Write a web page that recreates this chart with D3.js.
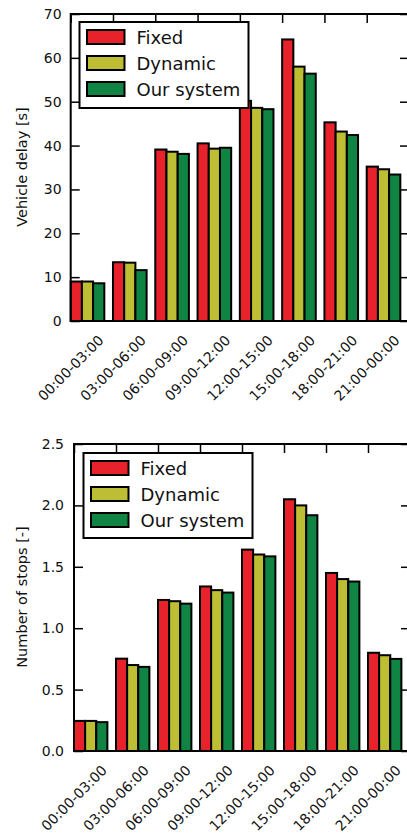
<!DOCTYPE html>
<html><head><meta charset="utf-8">
<script src="https://cdn.jsdelivr.net/npm/d3@7"></script>
<style>body{margin:0;background:#fff;} svg{display:block;} text{font-family:"DejaVu Sans",sans-serif;fill:#111;}</style>
</head><body>
<script>
const categories = ["00:00-03:00","03:00-06:00","06:00-09:00","09:00-12:00","12:00-15:00","15:00-18:00","18:00-21:00","21:00-00:00"];
const seriesNames = ["Fixed","Dynamic","Our system"];
const seriesColors = ["#e8222a","#bdbe33","#108443"];
const delayFixed   = [9.0, 13.4, 39.1, 40.5, 50.2, 64.2, 45.3, 35.2];
const delayDynamic = [9.0, 13.3, 38.6, 39.3, 48.6, 58.0, 43.2, 34.6];
const delayOurs    = [8.6, 11.6, 38.1, 39.5, 48.3, 56.4, 42.4, 33.4];
const stopsFixed   = [0.245, 0.752, 1.23, 1.34, 1.64, 2.05, 1.45, 0.80];
const stopsDynamic = [0.245, 0.70, 1.22, 1.31, 1.60, 2.00, 1.40, 0.78];
const stopsOurs    = [0.235, 0.685, 1.20, 1.29, 1.585, 1.92, 1.38, 0.75];
const delayTicks = [0,10,20,30,40,50,60,70];
const stopsTicks = [0,0.5,1.0,1.5,2.0,2.5];

const W = 407, H = 837;
const svg = d3.select("body").append("svg").attr("width", W).attr("height", H);

function panel(cfg){
  const g = svg.append("g");
  const x = d3.scaleLinear().domain([0, categories.length]).range([cfg.left, cfg.right]);
  const y = d3.scaleLinear().domain(cfg.domain).range([cfg.bottom, cfg.top]);
  const bw = 0.265;
  const series = cfg.series;
  series.forEach((vals, s) => {
    g.selectAll(null).data(vals).enter().append("rect")
      .attr("x", (d,i) => x(i + s*bw))
      .attr("width", x(bw) - x(0))
      .attr("y", d => y(d))
      .attr("height", d => y(0) - y(d))
      .attr("fill", seriesColors[s])
      .attr("stroke", "#000").attr("stroke-width", 2);
  });
  const tl = 9;
  const yAxisL = d3.axisLeft(y).tickValues(cfg.ticks).tickFormat(cfg.fmt).tickSize(-tl).tickPadding(cfg.pad);
  const ga = g.append("g").attr("transform", `translate(${cfg.left},0)`).call(yAxisL);
  ga.select(".domain").remove();
  ga.selectAll("line").attr("stroke","#000").attr("stroke-width",1.5);
  ga.selectAll("text").style("font-size","14px").style("font-family","DejaVu Sans").attr("fill","#111");
  const yAxisR = d3.axisRight(y).tickValues(cfg.ticks).tickFormat("").tickSize(-tl);
  const gr = g.append("g").attr("transform", `translate(${cfg.right},0)`).call(yAxisR);
  gr.select(".domain").remove();
  gr.selectAll("line").attr("stroke","#000").attr("stroke-width",1.5);
  const xt = d3.range(categories.length);
  const xAxisT = d3.axisTop(x).tickValues(xt).tickFormat("").tickSize(-tl);
  const gt = g.append("g").attr("transform", `translate(0,${cfg.top})`).call(xAxisT);
  gt.select(".domain").remove();
  gt.selectAll("line").attr("stroke","#000").attr("stroke-width",1.5);
  g.append("rect").attr("x", cfg.left).attr("y", cfg.top)
    .attr("width", cfg.right - cfg.left).attr("height", cfg.bottom - cfg.top)
    .attr("fill","none").attr("stroke","#000").attr("stroke-width",2);
  g.selectAll(null).data(categories).enter().append("text")
    .attr("transform", (d,i) => `translate(${x(i)},${cfg.bottom + 47}) rotate(-45)`)
    .attr("text-anchor","middle").attr("dominant-baseline","central")
    .style("font-size","14px").text(d => d);
  g.append("text").attr("transform", `translate(22,${cfg.ylabelY}) rotate(-90)`)
    .attr("text-anchor","middle").attr("dominant-baseline","central")
    .style("font-size","14.5px").text(cfg.ylabel);
  const L = cfg.legend;
  g.append("rect").attr("x", L.x).attr("y", L.y).attr("width", L.w).attr("height", L.h)
    .attr("fill","#fff").attr("stroke","#000").attr("stroke-width",2);
  seriesNames.forEach((n, s) => {
    const cy = L.y + 15 + s*26;
    g.append("rect").attr("x", L.x + 7.5).attr("y", cy - 7).attr("width", 37.5).attr("height", 14)
      .attr("fill", seriesColors[s]).attr("stroke","#000").attr("stroke-width",2);
    g.append("text").attr("x", L.x + 57).attr("y", cy).attr("dominant-baseline","central")
      .style("font-size","18px").text(n);
  });
}

panel({left:70.7, right:409, top:14, bottom:321, domain:[0,70], ticks:delayTicks, fmt:d3.format("d"), pad:9,
  series:[delayFixed, delayDynamic, delayOurs], ylabel:"Vehicle delay [s]", ylabelY:167,
  legend:{x:79.5, y:22, w:169, h:86}});
panel({left:74, right:410, top:444, bottom:751, domain:[0,2.5], ticks:stopsTicks, fmt:d3.format(".1f"), pad:10,
  series:[stopsFixed, stopsDynamic, stopsOurs], ylabel:"Number of stops [-]", ylabelY:597,
  legend:{x:83.5, y:453, w:169, h:85}});
</script>
</body></html>
